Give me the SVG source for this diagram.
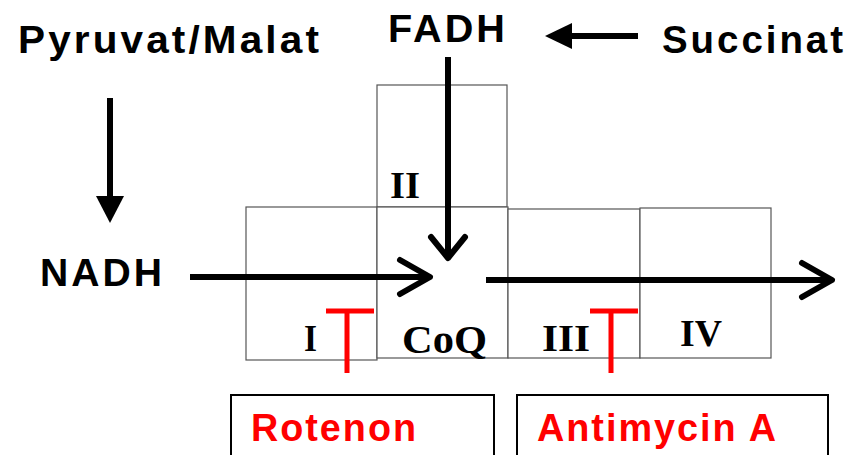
<svg xmlns="http://www.w3.org/2000/svg" width="853" height="455" viewBox="0 0 853 455">
<style>
.lbl{font-family:"Liberation Sans",Arial,sans-serif;font-weight:bold;fill:#000}
.red{font-family:"Liberation Sans",Arial,sans-serif;font-weight:bold;fill:#ff0000}
.cx{font-family:"Liberation Serif","Times New Roman",serif;font-weight:bold;fill:#000}
.box{fill:#fff;stroke:#555;stroke-width:1.2}
.inh{fill:#fff;stroke:#000;stroke-width:2}
.ln{stroke:#000;stroke-width:6;fill:none}
.chev{stroke:#000;stroke-width:6;fill:none;stroke-linecap:round;stroke-linejoin:round}
.t{stroke:#ff0000;stroke-width:5;fill:none}
</style>
<rect width="853" height="455" fill="#fff"/>
<g id="complex-II"><rect class="box" x="377" y="85" width="130" height="122"/><text class="cx" x="390" y="198" font-size="38" textLength="30" lengthAdjust="spacingAndGlyphs">II</text></g>
<g id="complex-I"><rect class="box" x="246" y="207" width="131" height="153"/><text class="cx" x="304" y="351" font-size="38" textLength="13" lengthAdjust="spacingAndGlyphs">I</text></g>
<g id="coq"><rect class="box" x="377" y="207" width="131" height="151"/><text class="cx" x="402" y="353" font-size="40" textLength="85" lengthAdjust="spacingAndGlyphs">CoQ</text></g>
<g id="complex-III"><rect class="box" x="508" y="209" width="132" height="149"/><text class="cx" x="542" y="351" font-size="38" textLength="48" lengthAdjust="spacingAndGlyphs">III</text></g>
<g id="complex-IV"><rect class="box" x="640" y="208" width="131" height="150"/><text class="cx" x="680" y="346" font-size="38" textLength="42" lengthAdjust="spacingAndGlyphs">IV</text></g>
<g id="pyruvat"><text class="lbl" x="18" y="53" font-size="39" textLength="304" lengthAdjust="spacingAndGlyphs" letter-spacing="3">Pyruvat/Malat</text></g>
<g id="fadh"><text class="lbl" x="388" y="42" font-size="39" textLength="120" lengthAdjust="spacingAndGlyphs" letter-spacing="3">FADH</text></g>
<g id="succinat"><text class="lbl" x="662" y="53" font-size="39" textLength="184" lengthAdjust="spacingAndGlyphs" letter-spacing="3">Succinat</text></g>
<g id="nadh"><text class="lbl" x="40" y="286" font-size="39" textLength="125" lengthAdjust="spacingAndGlyphs" letter-spacing="3">NADH</text></g>
<g id="rotenon"><rect class="inh" x="231" y="395" width="263" height="70"/><text class="red" x="251" y="441" font-size="38" textLength="167" lengthAdjust="spacingAndGlyphs" letter-spacing="2">Rotenon</text></g>
<g id="antimycin"><rect class="inh" x="517" y="395" width="311" height="70"/><text class="red" x="537" y="441" font-size="38" textLength="241" lengthAdjust="spacingAndGlyphs" letter-spacing="2">Antimycin A</text></g>
<g id="connectors">
<line class="ln" x1="110" y1="98" x2="110" y2="200"/>
<polygon points="96,196 124,196 110,223" fill="#000"/>
<line class="ln" x1="638" y1="36" x2="568" y2="36"/>
<polygon points="572,23 572,49 545,36" fill="#000"/>
<line class="ln" x1="448" y1="57" x2="448" y2="256"/>
<polyline class="chev" points="431,237 448,258 465,237"/>
<line class="ln" x1="190" y1="277" x2="428" y2="277"/>
<polyline class="chev" points="400,260 430,277 400,294"/>
<line class="ln" x1="486" y1="280" x2="831" y2="280"/>
<polyline class="chev" points="802,263 832,280 802,297"/>
<path class="t" d="M326,311 H374 M347,311 V373"/>
<path class="t" d="M590,311 H638 M611,311 V373"/>
</g>
</svg>
